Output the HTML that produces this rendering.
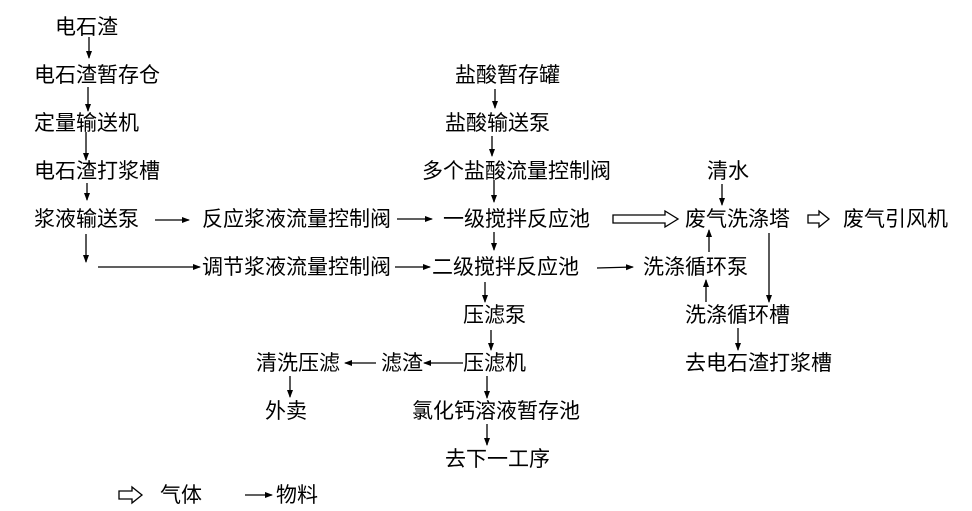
<!DOCTYPE html>
<html><head><meta charset="utf-8"><style>
html,body{margin:0;padding:0;background:#fff;width:972px;height:511px;overflow:hidden}
svg text{font-family:"Liberation Sans","Noto Sans CJK SC",sans-serif;font-size:21px;fill:#000}
</style></head><body>
<svg width="972" height="511" viewBox="0 0 972 511">
<defs><marker id="a" markerWidth="8" markerHeight="8" refX="7" refY="4" orient="auto" markerUnits="userSpaceOnUse"><path d="M0,1 L8,4 L0,7 Z" fill="#000"/></marker></defs>
<g>
<text x="55" y="34">电石渣</text>
<text x="34" y="82">电石渣暂存仓</text>
<text x="34" y="130">定量输送机</text>
<text x="34" y="178">电石渣打浆槽</text>
<text x="34" y="226">浆液输送泵</text>
<text x="202" y="226">反应浆液流量控制阀</text>
<text x="202" y="274">调节浆液流量控制阀</text>
<text x="455" y="82">盐酸暂存罐</text>
<text x="445" y="130">盐酸输送泵</text>
<text x="422" y="178">多个盐酸流量控制阀</text>
<text x="443" y="226">一级搅拌反应池</text>
<text x="432" y="274">二级搅拌反应池</text>
<text x="463" y="322">压滤泵</text>
<text x="463" y="370">压滤机</text>
<text x="381" y="370">滤渣</text>
<text x="256" y="370">清洗压滤</text>
<text x="265" y="418">外卖</text>
<text x="412" y="418">氯化钙溶液暂存池</text>
<text x="445" y="466">去下一工序</text>
<text x="707" y="178">清水</text>
<text x="685" y="226">废气洗涤塔</text>
<text x="843" y="226">废气引风机</text>
<text x="643" y="274">洗涤循环泵</text>
<text x="685" y="322">洗涤循环槽</text>
<text x="685" y="370">去电石渣打浆槽</text>
<text x="160" y="502">气体</text>
<text x="276" y="502">物料</text>
</g>
<g stroke="#000" stroke-width="1.3" fill="none" marker-end="url(#a)">
<line x1="89" y1="37" x2="89" y2="58"/>
<line x1="88" y1="87" x2="88" y2="111"/>
<line x1="86" y1="132" x2="86" y2="160"/>
<line x1="87" y1="183" x2="87" y2="200"/>
<line x1="86" y1="234" x2="86" y2="262"/>
<line x1="155" y1="220" x2="189" y2="220"/>
<line x1="98" y1="267" x2="200" y2="267"/>
<line x1="397" y1="219" x2="432" y2="219"/>
<line x1="395" y1="267" x2="430" y2="267"/>
<line x1="495" y1="89" x2="495" y2="108"/>
<line x1="492" y1="136" x2="492" y2="156"/>
<line x1="494" y1="180" x2="494" y2="202"/>
<line x1="494" y1="232" x2="494" y2="250"/>
<line x1="485" y1="282" x2="485" y2="302"/>
<line x1="491" y1="330" x2="491" y2="350"/>
<line x1="463" y1="363" x2="424" y2="363"/>
<line x1="376" y1="363" x2="345" y2="363"/>
<line x1="290" y1="376" x2="290" y2="397"/>
<line x1="487" y1="376" x2="487" y2="398"/>
<line x1="487" y1="424" x2="487" y2="445"/>
<line x1="597" y1="268" x2="633" y2="267"/>
<line x1="722" y1="184" x2="722" y2="205"/>
<line x1="709" y1="252" x2="709" y2="230"/>
<line x1="706" y1="302" x2="706" y2="280"/>
<line x1="769" y1="233" x2="769" y2="302"/>
<line x1="738" y1="328" x2="738" y2="350"/>
<line x1="245" y1="495" x2="272" y2="495"/>
</g>
<g stroke="#000" stroke-width="1.3" fill="#fff">
<path d="M613,215 L665,215 L665,211 L678,219 L665,227 L665,223 L613,223 Z"/>
<path d="M808,215 L819,215 L819,211 L829,219 L819,227 L819,223 L808,223 Z"/>
<path d="M119,491 L132,491 L132,487 L142,495 L132,503 L132,499 L119,499 Z"/>
</g>
</svg>
</body></html>
